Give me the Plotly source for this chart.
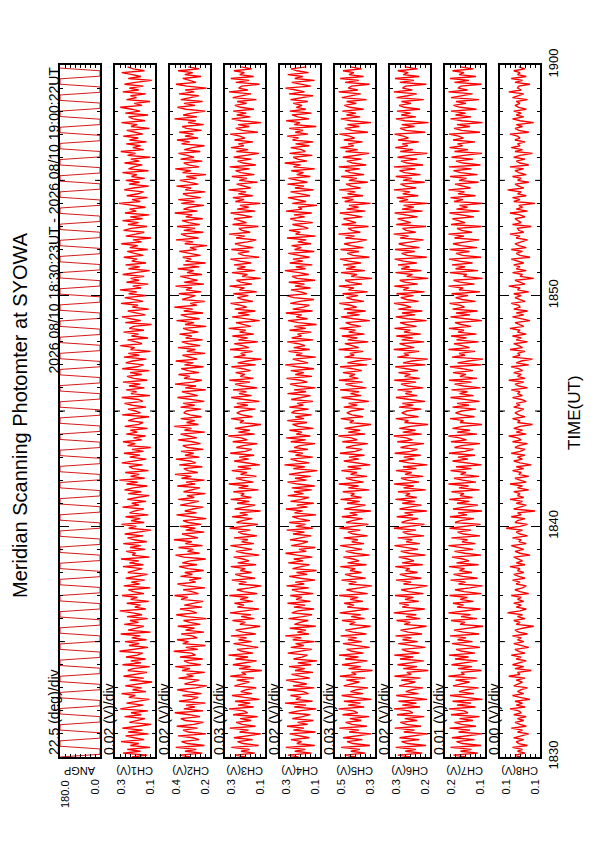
import plotly.graph_objects as go

# ---------------- data ----------------
panel_names = ["ANGP", "CH1(V)", "CH2(V)", "CH3(V)", "CH4(V)", "CH5(V)", "CH6(V)", "CH7(V)", "CH8(V)"]
scale_labels = ["22.5 (deg)/div", "0.02 (V)/div", "0.02 (V)/div", "0.03 (V)/div", "0.02 (V)/div",
                "0.03 (V)/div", "0.02 (V)/div", "0.01 (V)/div", "0.00 (V)/div"]
left_tick_labels = ["180.0", "0.3", "0.4", "0.3", "0.3", "0.5", "0.3", "0.2", "0.1"]
right_tick_labels = ["0.0", "0.1", "0.2", "0.1", "0.1", "0.3", "0.2", "0.1", "0.1"]
left_values = [180.0, 0.30, 0.40, 0.30, 0.30, 0.50, 0.35, 0.20, 0.120]
per_div = [22.5, 0.02, 0.02, 0.03, 0.02, 0.03, 0.02, 0.01, 0.004]
n_div = 8

time_tick_seconds = [0, 600, 1200, 1800]
time_tick_labels = ["1830", "1840", "1850", "1900"]
time_span_s = 1800

ang_step_s = 7.0
ch_step_s = 5.0

ang_deg = [
    180, 0, 0, 0, 180, 180, 180, 0, 0, 0, 180, 180, 180, 0, 0, 0, 180, 180,
    180, 0, 0, 0, 180, 180, 180, 0, 0, 0, 180, 180, 180, 0, 0, 0, 180, 180,
    180, 0, 0, 0, 180, 180, 180, 0, 0, 0, 180, 180, 180, 0, 0, 0, 180, 180,
    180, 0, 0, 0, 180, 180, 180, 0, 0, 0, 180, 180, 180, 0, 0, 0, 180, 180,
    180, 0, 0, 0, 180, 180, 180, 0, 0, 0, 180, 180, 180, 0, 0, 0, 180, 180,
    180, 0, 0, 0, 180, 180, 180, 0, 0, 0, 180, 180, 180, 0, 0, 0, 180, 180,
    180, 0, 0, 0, 180, 180, 180, 0, 0, 0, 180, 180, 180, 0, 0, 0, 180, 180,
    180, 0, 0, 0, 180, 180, 180, 0, 0, 0, 180, 180, 180, 0, 0, 0, 180, 180,
    180, 0, 0, 0, 180, 180, 180, 0, 0, 0, 180, 180, 180, 0, 0, 0, 180, 180,
    180, 0, 0, 0, 180, 180, 180, 0, 0, 0, 180, 180, 180, 0, 0, 0, 180, 180,
    180, 0, 0, 0, 180, 180, 180, 0, 0, 0, 180, 180, 180, 0, 0, 0, 180, 180,
    180, 0, 0, 0, 180, 180, 180, 0, 0, 0, 180, 180, 180, 0, 0, 0, 180, 180,
    180, 0, 0, 0, 180, 180, 180, 0, 0, 0, 180, 180, 180, 0, 0, 0, 180, 180,
    180, 0, 0, 0, 180, 180, 180, 0, 0, 0, 180, 180, 180, 0, 0, 0, 180, 180,
    180, 0, 0, 0, 180,
]

ch1_mv = [
    232, 171, 268, 198, 251, 160, 239, 205, 276, 183, 224, 258, 166, 247, 190, 271, 209, 155, 243, 214,
    180, 262, 195, 236, 168, 279, 222, 187, 254, 201, 163, 245, 219, 274, 176, 230, 193, 259, 207, 152,
    241, 185, 266, 213, 172, 249, 228, 161, 270, 196, 237, 178, 256, 211, 189, 282, 226, 168, 244, 203,
    260, 174, 233, 199, 277, 158, 248, 216, 185, 263, 206, 240, 169, 252, 192, 229, 281, 177, 221, 198,
    253, 165, 238, 210, 272, 184, 227, 246, 159, 265, 202, 235, 181, 257, 213, 170, 249, 224, 191, 268,
    186, 243, 205, 276, 162, 231, 218, 255, 179, 240, 197, 267, 173, 223, 250, 188, 261, 208, 156, 245,
    215, 274, 183, 236, 199, 258, 167, 242, 220, 185, 270, 204, 233, 176, 251, 212, 163, 247, 195, 262,
    227, 171, 254, 209, 283, 181, 238, 203, 259, 166, 228, 244, 190, 273, 217, 175, 241, 200, 264, 186,
    232, 157, 250, 219, 268, 193, 226, 178, 255, 211, 239, 170, 261, 205, 188, 247, 222, 164, 271, 198,
    219, 248, 176, 231, 262, 189, 207, 273, 160, 236, 214, 255, 182, 244, 199, 268, 171, 225, 252, 193,
    240, 163, 271, 211, 186, 257, 230, 175, 264, 203, 247, 158, 238, 221, 279, 192, 216, 250, 168, 234,
    206, 266, 184, 243, 226, 154, 259, 197, 237, 272, 179, 218, 249, 165, 231, 208, 276, 188, 224, 261,
    173, 245, 213, 280, 196, 229, 167, 254, 204, 238, 183, 269, 220, 161, 246, 201, 258, 176, 233, 212,
    265, 187, 222, 251, 169, 241, 209, 275, 194, 228, 156, 257, 217, 183, 266, 235, 172, 248, 206, 270,
    190, 239, 163, 260, 215, 242, 178, 223, 284, 199, 232, 170, 253, 208, 186, 263, 227, 165, 244, 202,
    257, 181, 234, 212, 270, 166, 246, 225, 191, 262, 203, 237, 159, 250, 218, 277, 185, 229, 198, 255,
    174, 242, 207, 267, 189, 220, 253, 162, 236, 211, 274, 180, 227, 246, 168, 259, 200, 233, 279, 192,
    223, 160, 254, 214, 238, 177, 269, 205, 243, 187, 262, 219, 153, 247, 196, 231, 273, 182, 226, 250,
]
ch2_mv = [
    318, 362, 271, 340, 295, 377, 262, 331, 354, 284, 309, 368, 256, 327, 348, 290, 373, 305, 266, 339,
    357, 280, 322, 381, 268, 345, 301, 336, 259, 364, 312, 287, 350, 274, 329, 371, 296, 253, 342, 316,
    283, 366, 307, 334, 261, 352, 320, 379, 277, 325, 344, 269, 360, 298, 314, 385, 289, 337, 258, 349,
    326, 372, 291, 311, 355, 264, 338, 302, 369, 279, 321, 346, 254, 333, 375, 293, 317, 360, 272, 343,
    305, 268, 356, 329, 382, 286, 313, 347, 260, 335, 370, 297, 323, 276, 358, 310, 341, 265, 328, 364,
    292, 351, 319, 257, 345, 378, 282, 330, 306, 366, 270, 339, 312, 384, 288, 324, 352, 263, 337, 299,
    361, 275, 327, 348, 255, 316, 374, 294, 341, 308, 267, 359, 322, 285, 367, 303, 332, 259, 346, 318,
    280, 371, 300, 336, 262, 354, 315, 380, 289, 328, 345, 271, 363, 297, 320, 376, 283, 340, 305, 356,
    267, 331, 349, 278, 311, 368, 293, 325, 358, 261, 342, 314, 383, 286, 334, 301, 357, 274, 320, 345,
    334, 276, 358, 301, 347, 263, 325, 370, 289, 316, 352, 257, 339, 296, 380, 310, 273, 344, 321, 366,
    284, 329, 355, 266, 342, 307, 377, 291, 318, 350, 260, 333, 299, 368, 279, 326, 353, 270, 337, 313,
    362, 287, 323, 348, 255, 340, 304, 374, 282, 330, 357, 268, 345, 309, 383, 293, 319, 261, 351, 327,
    298, 365, 275, 336, 312, 378, 264, 343, 290, 324, 359, 272, 332, 305, 369, 283, 347, 258, 338, 315,
    349, 278, 327, 363, 294, 320, 252, 341, 308, 376, 286, 333, 356, 267, 345, 300, 372, 281, 324, 352,
    269, 337, 311, 381, 290, 346, 322, 264, 355, 302, 367, 277, 330, 348, 259, 339, 316, 374, 287, 328,
    361, 294, 335, 256, 350, 317, 379, 284, 326, 345, 271, 358, 304, 331, 366, 279, 343, 310, 262, 354,
    321, 372, 288, 340, 306, 363, 274, 334, 351, 265, 328, 297, 382, 292, 347, 313, 259, 336, 370, 300,
    344, 270, 357, 319, 285, 364, 303, 339, 254, 332, 376, 296, 323, 349, 276, 341, 309, 368, 283, 327,
]
ch3_mv = [
    176, 238, 121, 204, 152, 262, 98, 191, 225, 134, 247, 168, 85, 213, 159, 271, 117, 198, 233, 143,
    209, 104, 251, 165, 187, 276, 128, 222, 149, 240, 93, 183, 258, 137, 206, 171, 112, 244, 195, 155,
    230, 126, 268, 174, 201, 79, 216, 146, 253, 188, 110, 237, 162, 279, 131, 199, 228, 101, 184, 249,
    140, 219, 170, 264, 115, 193, 236, 157, 89, 211, 178, 255, 124, 203, 145, 270, 167, 97, 226, 186,
    243, 133, 210, 161, 274, 106, 190, 229, 150, 82, 217, 172, 259, 120, 197, 239, 141, 208, 179, 265,
    113, 224, 156, 192, 248, 95, 181, 235, 138, 214, 267, 127, 200, 163, 246, 108, 189, 221, 148, 272,
    173, 102, 231, 196, 136, 257, 164, 212, 87, 242, 180, 119, 227, 154, 266, 142, 205, 185, 250, 99,
    218, 160, 277, 130, 194, 234, 111, 207, 169, 260, 144, 223, 91, 182, 245, 158, 215, 125, 269, 177,
    139, 232, 192, 106, 254, 166, 202, 280, 122, 220, 151, 241, 175, 84, 211, 187, 263, 135, 198, 229,
    201, 118, 247, 163, 229, 94, 185, 263, 141, 216, 172, 252, 107, 196, 239, 150, 274, 129, 208, 181,
    236, 147, 192, 261, 116, 224, 168, 81, 249, 178, 206, 135, 270, 157, 194, 244, 103, 219, 164, 256,
    127, 213, 176, 278, 145, 200, 234, 92, 188, 257, 153, 221, 118, 242, 170, 203, 267, 132, 195, 226,
    160, 250, 109, 214, 183, 273, 138, 206, 231, 86, 197, 165, 258, 121, 228, 177, 246, 143, 210, 268,
    96, 189, 222, 155, 262, 130, 204, 240, 166, 112, 233, 182, 275, 149, 199, 217, 100, 255, 171, 209,
    245, 137, 193, 266, 119, 227, 158, 211, 88, 238, 186, 253, 134, 219, 174, 279, 146, 198, 230, 105,
    215, 168, 259, 124, 205, 237, 152, 272, 115, 190, 225, 142, 248, 179, 97, 232, 161, 264, 187, 220,
    133, 243, 180, 211, 269, 103, 196, 236, 154, 221, 83, 202, 260, 148, 229, 173, 251, 126, 207, 241,
    170, 227, 111, 254, 189, 144, 276, 163, 218, 199, 93, 235, 156, 265, 128, 212, 184, 247, 139, 203,
]
ch4_mv = [
    226, 268, 174, 241, 199, 277, 161, 233, 214, 256, 183, 219, 262, 158, 247, 204, 272, 189, 230, 166,
    251, 210, 179, 265, 225, 155, 243, 196, 280, 170, 237, 217, 258, 186, 207, 271, 163, 248, 193, 235,
    275, 181, 222, 254, 168, 240, 201, 264, 176, 229, 152, 246, 212, 190, 269, 223, 173, 257, 205, 238,
    162, 249, 215, 279, 184, 231, 196, 261, 157, 242, 220, 187, 266, 209, 172, 253, 228, 164, 244, 200,
    270, 178, 236, 212, 259, 167, 227, 252, 185, 274, 203, 239, 160, 218, 263, 191, 234, 154, 250, 216,
    182, 267, 208, 245, 171, 232, 278, 195, 224, 159, 255, 213, 188, 260, 221, 175, 248, 202, 273, 169,
    237, 198, 263, 180, 226, 251, 156, 242, 210, 276, 190, 233, 165, 258, 214, 185, 269, 206, 244, 173,
    253, 161, 229, 270, 194, 240, 177, 264, 216, 151, 247, 201, 282, 183, 230, 258, 169, 238, 209, 266,
    188, 243, 221, 160, 257, 197, 275, 179, 235, 212, 262, 166, 228, 250, 192, 271, 204, 239, 174, 254,
    241, 186, 263, 207, 231, 168, 255, 222, 178, 270, 196, 244, 159, 228, 260, 191, 217, 274, 172, 239,
    205, 257, 164, 233, 279, 188, 220, 249, 157, 236, 211, 266, 181, 245, 200, 226, 271, 167, 253, 214,
    230, 175, 262, 197, 243, 154, 227, 268, 190, 235, 213, 277, 170, 249, 206, 183, 259, 221, 164, 246,
    273, 193, 218, 256, 178, 240, 202, 265, 160, 232, 252, 185, 224, 280, 198, 237, 171, 261, 209, 248,
    182, 225, 267, 163, 242, 215, 254, 176, 229, 195, 272, 158, 238, 219, 264, 187, 211, 250, 169, 234,
    259, 201, 244, 173, 276, 212, 227, 152, 251, 196, 236, 268, 180, 221, 258, 165, 240, 204, 270, 190,
    224, 266, 179, 233, 206, 255, 161, 246, 218, 281, 192, 230, 247, 171, 262, 199, 214, 257, 183, 238,
    167, 250, 226, 271, 188, 239, 208, 263, 155, 243, 220, 275, 184, 229, 252, 174, 261, 197, 235, 212,
    247, 189, 258, 216, 168, 264, 202, 237, 278, 177, 224, 253, 162, 241, 209, 269, 186, 232, 256, 195,
]
ch5_mv = [
    376, 442, 318, 405, 351, 463, 290, 392, 428, 336, 451, 372, 283, 415, 357, 474, 309, 398, 437, 342,
    411, 296, 455, 364, 389, 478, 325, 421, 347, 446, 281, 384, 460, 331, 408, 369, 302, 448, 395, 354,
    432, 320, 470, 373, 401, 275, 419, 345, 457, 388, 306, 439, 360, 476, 329, 399, 430, 292, 385, 452,
    339, 422, 370, 466, 312, 393, 438, 355, 287, 413, 378, 458, 322, 403, 346, 472, 366, 298, 427, 386,
    445, 333, 410, 361, 475, 304, 390, 431, 350, 279, 417, 372, 461, 316, 397, 440, 341, 409, 379, 468,
    311, 425, 356, 392, 450, 293, 381, 436, 338, 414, 469, 326, 400, 363, 448, 305, 389, 423, 348, 473,
    374, 300, 433, 396, 334, 459, 365, 412, 285, 444, 380, 317, 428, 352, 467, 340, 406, 383, 453, 295,
    420, 359, 477, 328, 394, 435, 308, 407, 368, 462, 343, 424, 289, 382, 447, 357, 416, 323, 471, 377,
    337, 434, 391, 303, 456, 366, 402, 479, 319, 421, 349, 443, 375, 284, 412, 387, 465, 332, 398, 429,
    401, 326, 448, 367, 419, 297, 384, 461, 343, 407, 356, 470, 312, 391, 437, 334, 476, 361, 414, 380,
    452, 339, 395, 469, 308, 426, 371, 281, 443, 385, 411, 331, 478, 358, 398, 441, 300, 424, 365, 459,
    323, 418, 377, 472, 345, 404, 436, 291, 389, 463, 353, 428, 316, 447, 370, 408, 474, 327, 396, 432,
    362, 455, 305, 420, 386, 477, 338, 410, 439, 278, 403, 368, 464, 321, 433, 376, 451, 344, 415, 470,
    294, 392, 427, 357, 467, 330, 406, 445, 366, 310, 438, 383, 479, 348, 399, 422, 299, 460, 374, 412,
    449, 336, 397, 471, 318, 430, 359, 416, 287, 442, 389, 458, 332, 425, 378, 475, 347, 402, 434, 303,
    417, 369, 463, 325, 409, 440, 351, 477, 313, 393, 429, 341, 453, 381, 296, 437, 364, 468, 388, 421,
    335, 447, 382, 413, 473, 302, 400, 441, 355, 426, 284, 405, 465, 349, 431, 375, 456, 328, 411, 444,
    372, 430, 311, 459, 392, 346, 478, 363, 420, 401, 293, 439, 357, 469, 329, 416, 387, 452, 340, 407,
]
ch6_mv = [
    268, 318, 221, 289, 247, 327, 206, 280, 304, 233, 312, 262, 199, 295, 252, 331, 226, 284, 309, 241,
    291, 213, 322, 259, 274, 334, 230, 301, 244, 316, 202, 270, 325, 236, 287, 262, 218, 314, 279, 249,
    306, 228, 332, 265, 283, 197, 297, 242, 320, 276, 215, 310, 257, 333, 232, 281, 303, 209, 272, 317,
    239, 300, 264, 328, 222, 278, 308, 251, 204, 293, 269, 324, 229, 286, 245, 335, 260, 211, 301, 275,
    313, 235, 290, 256, 330, 216, 276, 305, 248, 200, 296, 266, 326, 225, 282, 311, 240, 288, 271, 329,
    219, 302, 254, 279, 315, 208, 273, 307, 238, 294, 332, 231, 285, 261, 319, 214, 277, 299, 246, 334,
    266, 212, 304, 282, 237, 323, 258, 292, 203, 312, 272, 224, 301, 250, 328, 243, 288, 270, 318, 207,
    296, 255, 333, 234, 280, 306, 217, 290, 263, 326, 244, 298, 201, 274, 314, 253, 295, 227, 331, 267,
    240, 308, 277, 214, 321, 260, 285, 335, 223, 299, 248, 313, 268, 198, 292, 276, 327, 236, 283, 303,
    283, 225, 314, 257, 301, 210, 272, 326, 241, 289, 263, 320, 217, 279, 306, 246, 333, 231, 292, 268,
    316, 238, 285, 329, 208, 298, 262, 199, 321, 275, 295, 234, 335, 253, 287, 312, 214, 303, 259, 325,
    227, 294, 269, 332, 244, 286, 310, 204, 280, 327, 250, 302, 221, 317, 266, 290, 334, 236, 284, 307,
    256, 324, 212, 297, 274, 333, 239, 291, 311, 197, 283, 260, 328, 224, 305, 271, 318, 243, 296, 331,
    203, 281, 304, 251, 330, 232, 289, 315, 264, 216, 309, 276, 335, 247, 285, 300, 206, 325, 267, 293,
    319, 240, 284, 331, 220, 302, 255, 296, 200, 313, 278, 323, 237, 299, 270, 334, 245, 288, 308, 211,
    298, 263, 327, 228, 292, 312, 249, 334, 218, 282, 306, 242, 320, 274, 201, 309, 258, 329, 279, 301,
    235, 318, 276, 296, 332, 209, 287, 310, 252, 303, 196, 290, 326, 246, 305, 268, 322, 230, 293, 314,
    266, 304, 215, 324, 280, 243, 335, 261, 300, 288, 205, 311, 254, 330, 233, 297, 277, 319, 240, 291,
]
ch7_mv = [
    158, 183, 134, 169, 147, 189, 128, 165, 177, 141, 186, 156, 126, 173, 150, 191, 138, 167, 181, 144,
    171, 131, 188, 154, 162, 192, 139, 176, 148, 185, 125, 159, 190, 142, 172, 157, 133, 184, 166, 151,
    179, 137, 193, 161, 168, 127, 174, 146, 187, 163, 135, 180, 153, 192, 140, 166, 178, 130, 160, 186,
    145, 175, 158, 190, 132, 164, 182, 152, 124, 170, 160, 188, 136, 168, 149, 193, 157, 129, 176, 163,
    184, 143, 170, 155, 191, 127, 162, 180, 150, 125, 173, 159, 189, 135, 165, 183, 146, 171, 161, 192,
    133, 177, 152, 164, 186, 128, 160, 181, 144, 172, 193, 139, 166, 155, 187, 130, 163, 175, 148, 191,
    159, 129, 180, 169, 142, 190, 156, 174, 126, 184, 161, 134, 176, 151, 192, 145, 170, 162, 187, 131,
    172, 153, 193, 138, 165, 182, 132, 169, 158, 189, 147, 178, 127, 161, 185, 154, 174, 140, 192, 160,
    143, 181, 167, 130, 188, 157, 171, 193, 136, 176, 150, 185, 164, 126, 170, 163, 190, 141, 166, 179,
    167, 138, 185, 152, 176, 131, 161, 189, 143, 171, 155, 187, 129, 163, 181, 147, 192, 136, 170, 158,
    184, 144, 165, 190, 127, 175, 153, 124, 186, 160, 172, 140, 193, 151, 166, 182, 133, 177, 157, 188,
    137, 174, 162, 192, 148, 168, 180, 126, 159, 189, 150, 178, 135, 185, 161, 169, 191, 139, 166, 179,
    154, 187, 130, 172, 164, 193, 141, 170, 183, 125, 163, 156, 190, 134, 179, 160, 186, 145, 171, 192,
    128, 165, 178, 151, 191, 136, 168, 184, 158, 132, 181, 162, 193, 146, 167, 176, 127, 188, 160, 173,
    185, 142, 166, 191, 131, 177, 155, 171, 124, 182, 164, 189, 139, 174, 161, 193, 149, 168, 180, 133,
    172, 157, 190, 135, 169, 183, 147, 192, 129, 164, 178, 144, 187, 163, 126, 181, 154, 191, 165, 175,
    140, 184, 163, 173, 192, 130, 167, 182, 150, 176, 125, 166, 189, 148, 179, 159, 188, 137, 170, 183,
    158, 178, 132, 188, 165, 145, 193, 155, 174, 168, 127, 181, 152, 190, 138, 172, 162, 185, 143, 169,
]
ch8_mv = [
    104, 108, 100, 106, 102, 110, 98, 105, 107, 101, 109, 103, 97, 106, 102, 111, 99, 104, 108, 101,
    106, 99, 109, 103, 105, 112, 100, 107, 102, 108, 96, 104, 110, 101, 106, 103, 98, 109, 105, 102,
    107, 100, 113, 104, 106, 95, 108, 101, 110, 104, 99, 107, 103, 111, 100, 105, 108, 97, 104, 109,
    101, 106, 103, 110, 98, 105, 108, 102, 93, 107, 104, 109, 100, 106, 102, 114, 104, 99, 107, 103,
    109, 101, 106, 103, 111, 97, 104, 108, 102, 99, 107, 104, 110, 100, 105, 109, 101, 106, 104, 112,
    100, 107, 102, 105, 109, 96, 104, 108, 101, 106, 111, 99, 105, 103, 110, 98, 104, 107, 102, 115,
    104, 98, 108, 106, 100, 111, 103, 106, 92, 109, 104, 99, 107, 102, 112, 101, 106, 104, 109, 97,
    106, 102, 112, 99, 104, 108, 97, 105, 103, 110, 101, 107, 95, 104, 109, 102, 106, 100, 111, 104,
    100, 108, 105, 98, 110, 103, 106, 113, 99, 107, 102, 109, 104, 94, 106, 104, 110, 100, 105, 108,
    105, 101, 109, 104, 107, 99, 103, 110, 102, 106, 104, 111, 98, 105, 108, 101, 113, 100, 106, 103,
    109, 102, 105, 111, 97, 107, 103, 94, 110, 104, 106, 100, 112, 102, 105, 109, 98, 107, 103, 110,
    99, 106, 104, 112, 101, 105, 108, 96, 103, 110, 101, 107, 98, 109, 104, 105, 111, 100, 104, 108,
    103, 109, 97, 106, 104, 113, 100, 105, 108, 93, 104, 102, 110, 99, 107, 104, 109, 101, 106, 111,
    96, 104, 107, 102, 111, 99, 105, 108, 103, 98, 107, 104, 112, 101, 105, 106, 95, 110, 103, 106,
    108, 100, 104, 112, 98, 107, 102, 105, 92, 109, 104, 110, 99, 106, 103, 114, 101, 105, 108, 97,
    106, 103, 110, 99, 105, 108, 101, 112, 97, 104, 107, 100, 109, 104, 94, 108, 102, 111, 104, 106,
    100, 108, 104, 106, 112, 97, 105, 108, 102, 107, 93, 104, 110, 101, 107, 103, 109, 99, 105, 108,
    104, 107, 98, 110, 105, 101, 113, 103, 106, 105, 96, 108, 102, 111, 99, 106, 104, 109, 100, 105,
]

title_text = "Meridian Scanning Photomter at SYOWA"
header_text = "2026 08/10 18:30:23UT - 2026 08/10 19:00:22UT"
time_axis_title = "TIME(UT)"

# ---------------- layout geometry (pixels on the 595x842 page) ----------------
W, H = 595, 842
PANEL_LEFT0, PITCH, PANEL_W = 60, 55, 40
PANEL_TOP, PANEL_BOTTOM = 65, 757
FONT = "Liberation Sans, Arial, Helvetica, sans-serif"
RED = "#ff0000"


def px(x):
    return x / W


def py(y):
    return 1 - y / H


series = [ang_deg] + [[v / 1000.0 for v in arr] for arr in
                      (ch1_mv, ch2_mv, ch3_mv, ch4_mv, ch5_mv, ch6_mv, ch7_mv, ch8_mv)]
steps = [ang_step_s] + [ch_step_s] * 8

fig = go.Figure()
layout = dict(
    width=W, height=H, margin=dict(l=0, r=0, t=0, b=0),
    paper_bgcolor="white", plot_bgcolor="white", showlegend=False,
    font=dict(family=FONT, color="black"),
)
annotations = []
shapes = []

for i in range(9):
    n = "" if i == 0 else str(i + 1)
    left = PANEL_LEFT0 + PITCH * i
    L = left_values[i]
    D = per_div[i]
    fig.add_trace(go.Scatter(
        x=series[i], y0=0, dy=steps[i], mode="lines",
        line=dict(color="#d00000" if i == 0 else RED, width=0.9 if i == 0 else 1.35),
        xaxis="x" + n, yaxis="y" + n,
        hoverinfo="skip", showlegend=False,
    ))
    layout["xaxis" + n] = dict(
        domain=[px(left), px(left + PANEL_W)], anchor="y" + n,
        range=[L, L - n_div * D], tick0=L, dtick=D,
        ticks="inside", ticklen=3, tickwidth=1, tickcolor="black", mirror="ticks",
        showline=True, linewidth=2, linecolor="black",
        showgrid=False, zeroline=False, showticklabels=False, automargin=False,
    )
    last = i == 8
    layout["yaxis" + n] = dict(
        domain=[py(PANEL_BOTTOM), py(PANEL_TOP)], anchor="x" + n,
        range=[0, time_span_s], tickmode="array", tickvals=time_tick_seconds,
        ticktext=time_tick_labels, side="right" if last else "left",
        ticks="inside", ticklen=9, tickwidth=1.2, tickcolor="black", mirror="ticks",
        showline=True, linewidth=2, linecolor="black",
        showgrid=False, zeroline=False, showticklabels=last, tickangle=-90,
        tickfont=dict(size=13, family=FONT), automargin=False,
        minor=dict(dtick=60, tick0=0, ticks="inside", ticklen=3, tickwidth=1,
                   tickcolor="black", showgrid=False),
    )
    # 5-minute ticks (medium length) on both sides of each panel
    for t in (300, 900, 1500):
        for x0, x1 in ((0, 5 / PANEL_W), (1 - 5 / PANEL_W, 1)):
            shapes.append(dict(type="line", xref="x" + n + " domain", yref="y" + n,
                               x0=x0, x1=x1, y0=t, y1=t,
                               line=dict(color="black", width=1)))
    # scale label left of the panel
    annotations.append(dict(text=scale_labels[i], xref="paper", yref="paper",
                            x=px(left - 6), y=py(PANEL_BOTTOM), xanchor="center", yanchor="bottom",
                            textangle=-90, showarrow=False, font=dict(size=14)))
    # channel name under the panel
    annotations.append(dict(text=panel_names[i], xref="paper", yref="paper",
                            x=px(left + PANEL_W / 2), y=py(771), xanchor="center", yanchor="middle",
                            textangle=180, showarrow=False, font=dict(size=11)))
    # value labels under the panel
    annotations.append(dict(text=left_tick_labels[i], xref="paper", yref="paper",
                            x=px(left + 5), y=py(778), xanchor="center", yanchor="top",
                            textangle=-90, showarrow=False, font=dict(size=11)))
    annotations.append(dict(text=right_tick_labels[i], xref="paper", yref="paper",
                            x=px(left + 34), y=py(778), xanchor="center", yanchor="top",
                            textangle=-90, showarrow=False, font=dict(size=11)))

annotations.append(dict(text=title_text, xref="paper", yref="paper", x=px(20), y=py(415),
                        xanchor="center", yanchor="middle", textangle=-90, showarrow=False,
                        font=dict(size=20)))
annotations.append(dict(text=header_text, xref="paper", yref="paper", x=px(53), y=py(PANEL_TOP),
                        xanchor="center", yanchor="top", textangle=-90, showarrow=False,
                        font=dict(size=14)))
annotations.append(dict(text=time_axis_title, xref="paper", yref="paper", x=px(574), y=py(413),
                        xanchor="center", yanchor="middle", textangle=-90, showarrow=False,
                        font=dict(size=17)))

layout["annotations"] = annotations
layout["shapes"] = shapes
fig.update_layout(**layout)
fig.write_html("out.html", config={"displayModeBar": False},
               post_script="document.body.style.margin='0';document.body.style.overflow='hidden';")
